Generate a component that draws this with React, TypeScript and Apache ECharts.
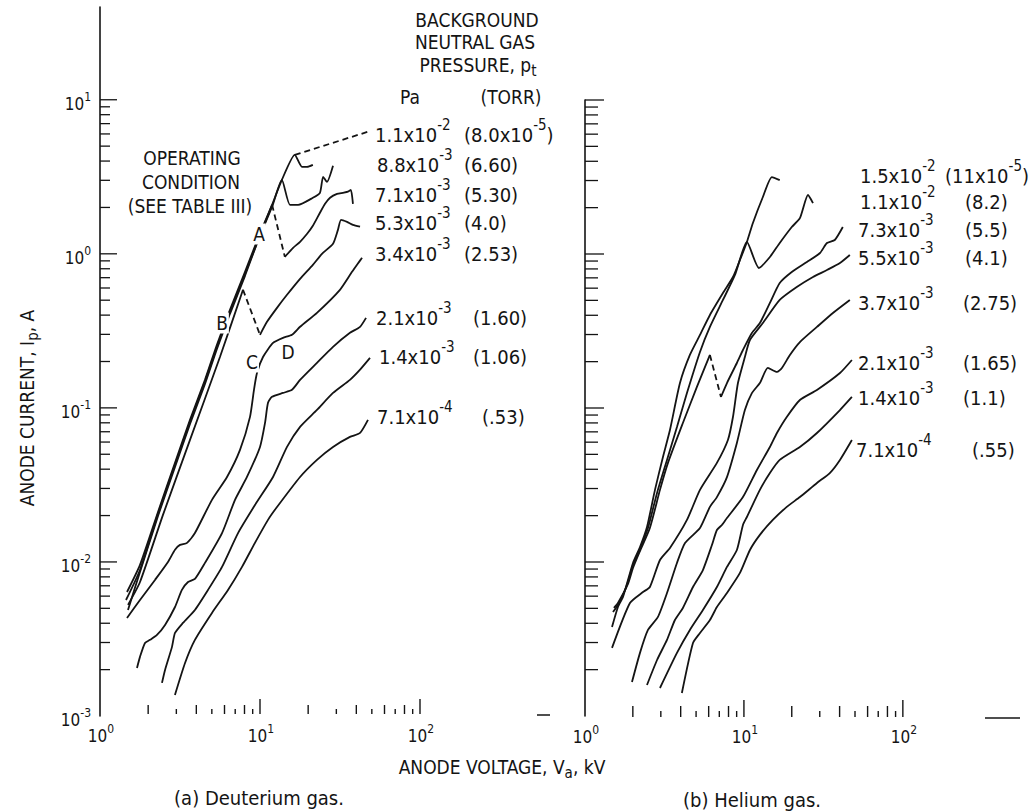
import React, { useEffect, useRef } from 'react';
import * as echarts from 'echarts';

const FONT = "'Liberation Sans Narrow', 'DejaVu Sans Condensed', 'Liberation Sans', 'Noto Sans', sans-serif";
const INK = '#141414';

// ---------------- axes: tick values and tick labels ----------------
const xTickValues = [2, 3, 4, 5, 6, 7, 8, 9, 10, 20, 30, 40, 50, 60, 70, 80, 90, 100];
const xTickLabels = [1, 10, 100];
const yTickValues = [
  0.002, 0.003, 0.004, 0.005, 0.006, 0.007, 0.008, 0.009, 0.01,
  0.02, 0.03, 0.04, 0.05, 0.06, 0.07, 0.08, 0.09, 0.1,
  0.2, 0.3, 0.4, 0.5, 0.6, 0.7, 0.8, 0.9, 1,
  2, 3, 4, 5, 6, 7, 8, 9, 10,
];
const yTickLabels = [0.001, 0.01, 0.1, 1, 10];

const X_MIN = 1;
const Y_MIN = 0.001;
const LEFT_X_MAX = 631;
const LEFT_Y_MAX = 40;
const RIGHT_X_MAX = 562;
const RIGHT_Y_MAX = 10;

// ---------------- (a) Deuterium gas: [anode voltage kV, anode current A] ----------------
const D_110_a = [[1.475, 0.00638], [1.778, 0.00957], [2.304, 0.0211], [2.943, 0.044], [3.652, 0.0836], [4.53, 0.152], [5.38, 0.257], [6.49, 0.433], [8.06, 0.764], [9.86, 1.31], [11.9, 2.08], [13.7, 3.02], [16.5, 4.39], [18.3, 3.67], [19.7, 3.67], [21.4, 3.78]];
const D_110_dash = [[16.5, 4.39], [47.3, 6.2]];
const D_088 = [[1.454, 0.00566], [1.778, 0.00887], [2.304, 0.0205], [2.943, 0.0427], [3.652, 0.0811], [4.53, 0.148], [5.38, 0.249], [6.49, 0.42], [8.06, 0.741], [9.86, 1.27], [11.9, 2.02], [13.7, 3.02], [15.4, 2.08], [17.3, 2.08], [21.4, 2.31], [23.7, 2.49], [24.8, 3.16], [26.2, 2.93], [28.6, 3.73]];
const D_071_a = [[1.496, 0.00488], [1.778, 0.00861], [2.304, 0.0199], [2.943, 0.0414], [3.652, 0.0787], [4.53, 0.143], [5.38, 0.2415], [6.49, 0.408], [8.06, 0.72], [9.86, 1.27], [11.9, 2.08]];
const D_071_dash = [[11.9, 2.08], [14.3, 0.956]];
const D_071_b = [[14.3, 0.956], [16.1, 1.094], [17.8, 1.197], [19.7, 1.349], [21.4, 1.52], [23.7, 1.846], [25.5, 2.11], [27.4, 2.31], [30.3, 2.45], [33.0, 2.49], [35.5, 2.53], [37.0, 2.6], [38.1, 2.11]];
const D_053_a = [[1.496, 0.00526], [1.778, 0.00741], [2.475, 0.0202], [3.652, 0.062], [5.62, 0.214], [7.83, 0.584]];
const D_053_dash = [[7.83, 0.584], [10.0, 0.298]];
const D_053_b = [[10.0, 0.298], [11.06, 0.362], [12.77, 0.446], [14.75, 0.542], [17.8, 0.688], [21.4, 0.848], [24.4, 1.0], [28.6, 1.161], [30.7, 1.43], [32.1, 1.66], [35.0, 1.61], [38.1, 1.54], [42.2, 1.5]];
const D_034 = [[1.475, 0.00433], [1.778, 0.00566], [2.206, 0.00764], [2.66, 0.01], [2.943, 0.012], [3.162, 0.0129], [3.5, 0.0133], [3.92, 0.0154], [5.01, 0.0253], [6.22, 0.0356], [7.5, 0.0534], [8.66, 0.0874], [9.17, 0.131], [9.58, 0.169], [10.44, 0.214], [12.06, 0.264], [13.92, 0.285], [15.85, 0.298], [17.8, 0.336], [22.7, 0.414], [31.6, 0.584], [37.6, 0.764], [43.4, 0.942]];
const D_021 = [[1.703, 0.00205], [1.778, 0.00242], [1.911, 0.00298], [2.054, 0.00312], [2.27, 0.00336], [2.55, 0.0039], [2.943, 0.0051], [3.25, 0.00658], [3.55, 0.00741], [3.92, 0.00776], [4.53, 0.00986], [5.79, 0.0154], [6.98, 0.0253], [8.29, 0.0356], [10.0, 0.0558], [10.75, 0.0799], [11.22, 0.1078], [11.89, 0.118], [13.92, 0.125], [15.85, 0.131], [17.8, 0.152], [22.7, 0.196], [28.6, 0.249], [36.5, 0.307], [42.2, 0.336], [46.0, 0.384]];
const D_014 = [[2.44, 0.00164], [2.55, 0.00199], [2.818, 0.00281], [2.943, 0.00346], [3.3, 0.00402], [3.92, 0.00488], [4.73, 0.00658], [5.79, 0.00929], [7.29, 0.0154], [9.3, 0.0234], [12.06, 0.0356], [14.75, 0.0558], [17.8, 0.0753], [22.7, 0.097], [28.6, 0.125], [36.5, 0.152], [42.2, 0.177], [48.7, 0.211]];
const D_0071 = [[2.94, 0.00137], [3.4, 0.00221], [3.92, 0.00312], [5.01, 0.00467], [6.31, 0.00658], [7.72, 0.00929], [9.3, 0.0133], [11.22, 0.01875], [12.6, 0.0223], [17.8, 0.0356], [22.7, 0.046], [28.6, 0.0558], [36.5, 0.0648], [42.2, 0.0688], [47.3, 0.0836]];

// ---------------- (b) Helium gas ----------------
const H_150 = [[1.479, 0.00378], [1.612, 0.0051], [1.734, 0.00593], [1.864, 0.00764], [2.004, 0.00986], [2.218, 0.0125], [2.455, 0.01687], [2.756, 0.0294], [3.094, 0.0481], [3.424, 0.072], [3.958, 0.1453], [4.57, 0.221], [5.29, 0.298], [6.11, 0.402], [7.38, 0.558], [8.53, 0.709], [9.44, 0.914], [10.44, 1.197], [11.39, 1.59], [13.16, 2.345], [15.0, 3.16], [16.8, 3.02]];
const H_110 = [[1.5, 0.00473], [1.612, 0.00526], [1.734, 0.00611], [1.864, 0.00741], [2.004, 0.00957], [2.218, 0.01214], [2.49, 0.01663], [2.84, 0.0281], [3.28, 0.046], [3.79, 0.0753], [4.38, 0.125], [5.29, 0.231], [6.11, 0.336], [7.38, 0.503], [8.78, 0.731], [10.44, 1.197], [12.43, 0.811], [14.57, 0.956], [16.8, 1.179], [20.0, 1.497], [22.5, 1.71], [25.3, 2.416], [27.2, 2.14]];
const H_073_a = [[1.52, 0.00503], [1.612, 0.00542], [1.864, 0.0072], [2.004, 0.00914], [2.218, 0.01178], [2.56, 0.01663], [2.963, 0.0294], [3.327, 0.044], [4.13, 0.0799], [5.06, 0.137], [6.11, 0.221]];
const H_073_dash = [[6.11, 0.221], [7.17, 0.118]];
const H_073_b = [[7.17, 0.118], [7.82, 0.1453], [9.03, 0.196], [9.86, 0.238], [11.22, 0.307], [12.6, 0.356], [14.57, 0.481], [16.8, 0.648], [20.0, 0.764], [24.9, 0.887], [30.1, 1.015], [33.3, 1.179], [37.3, 1.233], [41.9, 1.497]];
const H_055 = [[1.479, 0.00277], [1.918, 0.00542], [2.316, 0.00638], [2.56, 0.00688], [2.963, 0.0103], [3.424, 0.01233], [4.38, 0.01875], [5.29, 0.0294], [6.76, 0.044], [7.93, 0.062], [8.53, 0.0874], [9.17, 0.1453], [10.14, 0.2144], [10.91, 0.2766], [13.16, 0.356], [16.8, 0.503], [21.5, 0.61], [27.2, 0.709], [33.3, 0.787], [40.2, 0.874], [46.4, 0.985]];
const H_037 = [[1.975, 0.00166], [2.218, 0.00257], [2.49, 0.00362], [2.877, 0.0044], [3.28, 0.00629], [3.79, 0.00986], [4.26, 0.01328], [5.29, 0.01663], [6.11, 0.0228], [6.76, 0.0264], [7.82, 0.0356], [9.03, 0.0593], [10.14, 0.097], [11.22, 0.125], [12.6, 0.1453], [14.15, 0.182], [16.13, 0.1714], [17.34, 0.182], [19.47, 0.221], [22.5, 0.268], [28.8, 0.336], [36.3, 0.414], [46.4, 0.503]];
const H_021 = [[2.455, 0.00159], [2.84, 0.00231], [3.28, 0.00312], [3.68, 0.0042], [4.13, 0.00503], [4.78, 0.00688], [5.52, 0.00887], [6.29, 0.01289], [6.76, 0.01614], [7.27, 0.0174], [7.82, 0.0193], [9.86, 0.0264], [12.07, 0.0396], [14.57, 0.0558], [16.13, 0.0688], [18.6, 0.0874], [22.5, 0.1127], [28.8, 0.131], [40.2, 0.1687], [47.8, 0.205]];
const H_014 = [[2.963, 0.00152], [3.79, 0.00257], [4.57, 0.00362], [5.52, 0.00488], [6.76, 0.00688], [7.82, 0.00929], [9.03, 0.01197], [9.86, 0.0174], [10.44, 0.0196], [12.6, 0.0294], [14.57, 0.0378], [16.8, 0.046], [22.5, 0.0558], [28.8, 0.0688], [40.2, 0.097], [47.8, 0.118]];
const H_0071 = [[4.07, 0.00141], [4.78, 0.00298], [5.29, 0.00346], [6.11, 0.0042], [6.76, 0.0051], [7.82, 0.00629], [9.44, 0.00849], [10.91, 0.01197], [12.6, 0.015], [15.2, 0.01875], [18.6, 0.0228], [22.5, 0.0264], [28.8, 0.0326], [34.7, 0.0378], [40.2, 0.046], [47.8, 0.062]];

// ---------------- curve labels (background neutral gas pressure) ----------------
const D_PA = ['1.1x10^-2', '8.8x10^-3', '7.1x10^-3', '5.3x10^-3', '3.4x10^-3', '2.1x10^-3', '1.4x10^-3', '7.1x10^-4'];
const D_TORR = ['(8.0x10^-5)', '(6.60)', '(5.30)', '(4.0)', '(2.53)', '(1.60)', '(1.06)', '(.53)'];
const H_PA = ['1.5x10^-2', '1.1x10^-2', '7.3x10^-3', '5.5x10^-3', '3.7x10^-3', '2.1x10^-3', '1.4x10^-3', '7.1x10^-4'];
const H_TORR = ['(11x10^-5)', '(8.2)', '(5.5)', '(4.1)', '(2.75)', '(1.65)', '(1.1)', '(.55)'];
const POINT_LETTERS = ['A', 'B', 'C', 'D'];

// layout (pixel positions of the annotation texts)
const D_PA_POS = [[375, 135], [377, 165], [375, 195], [375, 223], [375, 254], [376, 318], [379, 357], [377, 417]];
const D_TORR_POS = [[464, 135], [464, 165], [464, 195], [464, 223], [464, 254], [473, 318], [473, 357], [482, 417]];
const H_PA_POS = [[860, 176], [860, 202], [858, 230], [858, 258], [858, 303], [858, 363], [858, 398], [856, 450]];
const H_TORR_POS = [[955, 176], [965, 202], [965, 230], [965, 258], [963, 303], [963, 363], [963, 398], [972, 450]];
const LETTER_POS = [[259, 234], [222, 323], [252, 362], [288, 352]];

// ---------------- text helpers (measured runs for super/subscripts) ----------------
let measureCtx: CanvasRenderingContext2D | null = null;
const measure = (t: string, size: number) => {
  if (!measureCtx) measureCtx = document.createElement('canvas').getContext('2d');
  if (!measureCtx) return t.length * size * 0.55;
  measureCtx.font = `${size}px ${FONT}`;
  return measureCtx.measureText(t).width;
};

type Seg = { t: string; size: number; dy: number };

const runWidth = (segs: Seg[]) => segs.reduce((a, s) => a + measure(s.t, s.size), 0);

const runChildren = (segs: Seg[], align: string) => {
  const total = runWidth(segs);
  let x0 = align === 'left' ? 0 : align === 'center' ? -total / 2 : -total;
  return segs.map((s) => {
    const el = {
      type: 'text',
      x: x0,
      y: s.dy,
      silent: true,
      style: {
        text: s.t,
        fontSize: s.size,
        fontFamily: FONT,
        fill: INK,
        align: 'left',
        textAlign: 'left',
        verticalAlign: 'middle',
        textVerticalAlign: 'middle',
      },
    };
    x0 += measure(s.t, s.size);
    return el;
  });
};

const supSegs = (s: string, size: number, supSize: number, raise: number): Seg[] => {
  const m = s.match(/^(.*)\^(-?\d+)(.*)$/);
  if (!m) return [{ t: s, size, dy: 0 }];
  const segs: Seg[] = [
    { t: m[1], size, dy: 0 },
    { t: m[2], size: supSize, dy: -raise },
  ];
  if (m[3]) segs.push({ t: m[3], size, dy: 0 });
  return segs;
};

const group = (x: number, y: number, segs: Seg[], align = 'left', rotation = 0) => ({
  type: 'group',
  x,
  y,
  rotation,
  z: 50,
  silent: true,
  children: runChildren(segs, align),
});

const plainText = (x: number, y: number, text: string, size = 19, align = 'center', extra: any = {}) => ({
  type: 'text',
  x,
  y,
  z: 50,
  silent: true,
  style: {
    text,
    fontSize: size,
    fontFamily: FONT,
    fill: INK,
    align,
    textAlign: align,
    verticalAlign: 'middle',
    textVerticalAlign: 'middle',
    ...extra,
  },
});

const mant = (v: number) => Math.round(v / Math.pow(10, Math.floor(Math.log10(v) + 1e-9)));
const powSegs = (v: number): Seg[] => [
  { t: '10', size: 17, dy: 0 },
  { t: String(Math.round(Math.log10(v))), size: 12, dy: -7 },
];

// ---------------- series builders ----------------
const lineSeries = (data: number[][], idx: number, dashed = false) => ({
  type: 'line',
  xAxisIndex: idx,
  yAxisIndex: idx,
  data,
  symbol: 'none',
  showSymbol: false,
  smooth: dashed ? false : 0.2,
  silent: true,
  z: 3,
  lineStyle: { color: INK, width: 1.8, type: dashed ? [6, 4] : 'solid' },
});

const xTickSeries = (idx: number, base: number, lens: number[]) => ({
  type: 'custom',
  xAxisIndex: idx,
  yAxisIndex: idx,
  silent: true,
  clip: false,
  z: 5,
  data: xTickValues.map((v) => [v, Y_MIN]),
  renderItem: (_p: any, api: any) => {
    const p = api.coord([api.value(0), api.value(1)]);
    const m = mant(api.value(0));
    const len = m === 1 ? lens[0] : m % 2 === 0 ? lens[1] : lens[2];
    const y0 = p[1] + base;
    return { type: 'line', shape: { x1: p[0], y1: y0, x2: p[0], y2: y0 - len }, style: { stroke: INK, lineWidth: 1.4 } };
  },
});

const xLabelSeries = (idx: number, dy: number) => ({
  type: 'custom',
  xAxisIndex: idx,
  yAxisIndex: idx,
  silent: true,
  clip: false,
  z: 5,
  data: xTickLabels.map((v) => [v, Y_MIN]),
  renderItem: (_p: any, api: any) => {
    const v = api.value(0);
    const p = api.coord([v, api.value(1)]);
    return { type: 'group', x: p[0] + 1, y: p[1] + dy, children: runChildren(powSegs(v), 'center') };
  },
});

const yTickSeries = (idx: number, major: number, minor: number) => ({
  type: 'custom',
  xAxisIndex: idx,
  yAxisIndex: idx,
  silent: true,
  clip: false,
  z: 5,
  data: yTickValues.map((v) => [X_MIN, v]),
  renderItem: (_p: any, api: any) => {
    const v = api.value(1);
    const p = api.coord([api.value(0), v]);
    const len = mant(v) === 1 ? major : minor;
    return { type: 'line', shape: { x1: p[0], y1: p[1], x2: p[0] + len, y2: p[1] }, style: { stroke: INK, lineWidth: 1.3 } };
  },
});

const yLabelSeries = (idx: number) => ({
  type: 'custom',
  xAxisIndex: idx,
  yAxisIndex: idx,
  silent: true,
  clip: false,
  z: 5,
  data: yTickLabels.map((v) => [X_MIN, v]),
  renderItem: (_p: any, api: any) => {
    const v = api.value(1);
    const p = api.coord([api.value(0), v]);
    return { type: 'group', x: p[0] - 9, y: p[1] + 4, children: runChildren(powSegs(v), 'right') };
  },
});

const hiddenX = (max: number, gridIndex: number) => ({
  type: 'log',
  logBase: 10,
  gridIndex,
  min: X_MIN,
  max,
  axisLine: { show: false, onZero: false },
  axisTick: { show: false },
  axisLabel: { show: false },
  splitLine: { show: false },
  minorTick: { show: false },
});
const plainY = (max: number, gridIndex: number) => ({
  type: 'log',
  logBase: 10,
  gridIndex,
  min: Y_MIN,
  max,
  axisLine: { show: true, onZero: false, lineStyle: { color: INK, width: 1.6 } },
  axisTick: { show: false },
  axisLabel: { show: false },
  splitLine: { show: false },
  minorTick: { show: false },
});

function buildOption() {
  const LS = 20; // legend base size
  const LSS = 15; // legend superscript size
  const RAISE = 10;
  const graphics: any[] = [];

  // header of the pressure key
  graphics.push(plainText(477, 20, 'BACKGROUND'));
  graphics.push(plainText(475, 42, 'NEUTRAL GAS'));
  graphics.push(group(478, 65, [{ t: 'PRESSURE, p', size: 19, dy: 0 }, { t: 't', size: 15, dy: 6 }], 'center'));
  graphics.push(plainText(410, 97, 'Pa'));
  graphics.push(plainText(511, 97, '(TORR)'));
  graphics.push(plainText(192, 158, 'OPERATING'));
  graphics.push(plainText(191, 182, 'CONDITION'));
  graphics.push(plainText(190, 206, '(SEE TABLE III)'));

  const legendRow = (s: string, pos: number[]) => {
    const segs = supSegs(s, LS, LSS, RAISE);
    const w = runWidth(segs);
    const x = Math.min(pos[0], 1029 - w);
    graphics.push(group(x, pos[1], segs, 'left'));
  };
  D_PA.forEach((s, i) => legendRow(s, D_PA_POS[i]));
  D_TORR.forEach((s, i) => legendRow(s, D_TORR_POS[i]));
  H_PA.forEach((s, i) => legendRow(s, H_PA_POS[i]));
  H_TORR.forEach((s, i) => legendRow(s, H_TORR_POS[i]));

  POINT_LETTERS.forEach((s, i) =>
    graphics.push(plainText(LETTER_POS[i][0], LETTER_POS[i][1], s, 19, 'center', { backgroundColor: '#fff', padding: [1, 1] }))
  );

  // axis titles and captions
  graphics.push(
    group(
      27,
      408,
      [
        { t: 'ANODE CURRENT, I', size: 19, dy: 0 },
        { t: 'p', size: 15, dy: 6 },
        { t: ', A', size: 19, dy: 0 },
      ],
      'center',
      Math.PI / 2
    )
  );
  graphics.push(
    group(
      502,
      767,
      [
        { t: 'ANODE VOLTAGE, V', size: 19, dy: 0 },
        { t: 'a', size: 15, dy: 6 },
        { t: ', kV', size: 19, dy: 0 },
      ],
      'center'
    )
  );
  graphics.push(plainText(259, 798, '(a) Deuterium gas.', 20));
  graphics.push(plainText(752, 800, '(b) Helium gas.', 20));

  // stray axis-end marks of the original drawing
  graphics.push({ type: 'line', silent: true, shape: { x1: 537, y1: 715, x2: 550, y2: 715 }, style: { stroke: INK, lineWidth: 1.5 } });
  graphics.push({ type: 'line', silent: true, shape: { x1: 985, y1: 718, x2: 1020, y2: 718 }, style: { stroke: INK, lineWidth: 1.5 } });

  return {
    animation: false,
    backgroundColor: '#fff',
    grid: [
      { left: 100, top: 7, width: 448, height: 709 },
      { left: 585, top: 100, width: 437, height: 616 },
    ],
    xAxis: [hiddenX(LEFT_X_MAX, 0), hiddenX(RIGHT_X_MAX, 1)],
    yAxis: [plainY(LEFT_Y_MAX, 0), plainY(RIGHT_Y_MAX, 1)],
    series: [
      lineSeries(D_110_a, 0),
      lineSeries(D_110_dash, 0, true),
      lineSeries(D_088, 0),
      lineSeries(D_071_a, 0),
      lineSeries(D_071_dash, 0, true),
      lineSeries(D_071_b, 0),
      lineSeries(D_053_a, 0),
      lineSeries(D_053_dash, 0, true),
      lineSeries(D_053_b, 0),
      lineSeries(D_034, 0),
      lineSeries(D_021, 0),
      lineSeries(D_014, 0),
      lineSeries(D_0071, 0),
      lineSeries(H_150, 1),
      lineSeries(H_110, 1),
      lineSeries(H_073_a, 1),
      lineSeries(H_073_dash, 1, true),
      lineSeries(H_073_b, 1),
      lineSeries(H_055, 1),
      lineSeries(H_037, 1),
      lineSeries(H_021, 1),
      lineSeries(H_014, 1),
      lineSeries(H_0071, 1),
      xTickSeries(0, -2, [15, 9, 5]),
      xTickSeries(1, 1, [17, 11, 6]),
      xLabelSeries(0, 20),
      xLabelSeries(1, 21),
      yTickSeries(0, 17, 10),
      yTickSeries(1, 19, 13),
      yLabelSeries(0),
    ],
    graphic: { elements: graphics },
  };
}

export default function App() {
  const ref = useRef<HTMLDivElement>(null);
  useEffect(() => {
    document.body.style.margin = '0';
    const chart = echarts.init(ref.current as HTMLDivElement, null, { renderer: 'svg' });
    chart.setOption(buildOption() as any);
    return () => chart.dispose();
  }, []);
  return <div ref={ref} style={{ width: 1032, height: 811, background: '#fff' }} />;
}
